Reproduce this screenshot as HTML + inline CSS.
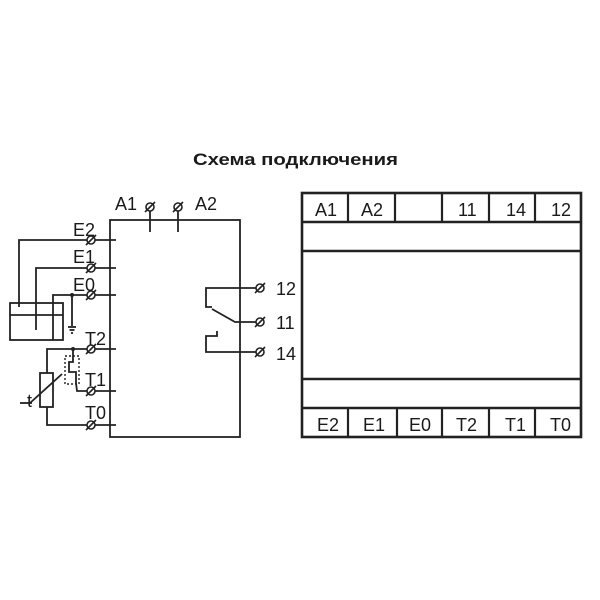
<!DOCTYPE html>
<html><head><style>
html,body{margin:0;padding:0;background:#fff;}
svg{display:block;}
text{font-family:"Liberation Sans",sans-serif;fill:#1a1a1a;}
</style></head><body>
<svg width="600" height="600" viewBox="0 0 600 600" xmlns="http://www.w3.org/2000/svg">
<rect width="600" height="600" fill="#fff"/>
<text x="193" y="165" font-size="17" font-weight="bold" textLength="205" lengthAdjust="spacingAndGlyphs">Схема подключения</text>

<g stroke="#222" stroke-width="1.8" fill="none">
<rect x="110" y="220" width="130" height="217"/>
<line x1="150" y1="207" x2="150" y2="232"/>
<line x1="178" y1="207" x2="178" y2="232"/>
<line x1="91" y1="240" x2="116" y2="240"/>
<line x1="91" y1="268" x2="116" y2="268"/>
<line x1="91" y1="295" x2="116" y2="295"/>
<line x1="91" y1="349" x2="116" y2="349"/>
<line x1="91" y1="391" x2="116" y2="391"/>
<line x1="91" y1="425" x2="116" y2="425"/>
<rect x="10" y="303" width="53" height="37"/>
<line x1="10" y1="315" x2="63" y2="315"/>
<polyline points="19,307 19,240 91,240"/>
<polyline points="36,330 36,268 91,268"/>
<polyline points="53,340 53,295 91,295"/>
<polyline points="72,295 72,326"/>
<line x1="68" y1="327" x2="76" y2="327"/>
<line x1="69.5" y1="330" x2="74.5" y2="330"/>
<line x1="71" y1="333" x2="73" y2="333"/>
<polyline points="91,349 47,349 47,373"/>
<polyline points="47,407 47,425 91,425"/>
<rect x="40" y="373" width="13" height="34"/>
<line x1="30" y1="403" x2="62" y2="374"/>
<line x1="20" y1="403" x2="32" y2="403"/>
<polyline points="73,349 73,362 69,362 69,372 76,372 76,383 77,391 91,391"/>
<rect x="65" y="356" width="14" height="28" stroke-dasharray="2,2" stroke-width="1.4"/>
<polyline points="258,288 206,288 206,307 212,307"/>
<polyline points="212,309 235,322 258,322"/>
<polyline points="258,352 206,352 206,336 217,336 217,331"/>
<rect x="302" y="193" width="279" height="244" stroke-width="2.6"/>
<line x1="302" y1="222" x2="581" y2="222" stroke-width="2.6"/>
<line x1="302" y1="251" x2="581" y2="251" stroke-width="2.6"/>
<line x1="302" y1="379" x2="581" y2="379" stroke-width="2.6"/>
<line x1="302" y1="408" x2="581" y2="408" stroke-width="2.6"/>
<g stroke-width="2.2">
<line x1="348" y1="193" x2="348" y2="222"/><line x1="395" y1="193" x2="395" y2="222"/>
<line x1="442" y1="193" x2="442" y2="222"/><line x1="489" y1="193" x2="489" y2="222"/>
<line x1="535" y1="193" x2="535" y2="222"/>
<line x1="348" y1="408" x2="348" y2="437"/><line x1="397" y1="408" x2="397" y2="437"/>
<line x1="442" y1="408" x2="442" y2="437"/><line x1="489" y1="408" x2="489" y2="437"/>
<line x1="535" y1="408" x2="535" y2="437"/>
</g>
</g>
<g stroke="#222" stroke-width="1.6" fill="#fff">
<g transform="translate(150,207)"><circle r="4"/><line x1="-5" y1="5" x2="5" y2="-5"/></g>
<g transform="translate(178,207)"><circle r="4"/><line x1="-5" y1="5" x2="5" y2="-5"/></g>
<g transform="translate(91,240)"><circle r="4"/><line x1="-5" y1="5" x2="5" y2="-5"/></g>
<g transform="translate(91,268)"><circle r="4"/><line x1="-5" y1="5" x2="5" y2="-5"/></g>
<g transform="translate(91,295)"><circle r="4"/><line x1="-5" y1="5" x2="5" y2="-5"/></g>
<g transform="translate(91,349)"><circle r="4"/><line x1="-5" y1="5" x2="5" y2="-5"/></g>
<g transform="translate(91,391)"><circle r="4"/><line x1="-5" y1="5" x2="5" y2="-5"/></g>
<g transform="translate(91,425)"><circle r="4"/><line x1="-5" y1="5" x2="5" y2="-5"/></g>
<g transform="translate(260,288)"><circle r="4"/><line x1="-5" y1="5" x2="5" y2="-5"/></g>
<g transform="translate(260,322)"><circle r="4"/><line x1="-5" y1="5" x2="5" y2="-5"/></g>
<g transform="translate(260,352)"><circle r="4"/><line x1="-5" y1="5" x2="5" y2="-5"/></g>
</g>
<circle cx="72" cy="295" r="2" fill="#222"/>
<circle cx="73" cy="349" r="2" fill="#222"/>
<g font-size="18">
<text x="115" y="210">A1</text>
<text x="195" y="210">A2</text>
<text x="73" y="236">E2</text>
<text x="73" y="263">E1</text>
<text x="73" y="291">E0</text>
<text x="85" y="345">T2</text>
<text x="85" y="386">T1</text>
<text x="85" y="419">T0</text>
<text x="27" y="407">t</text>
<text x="276" y="295">12</text>
<text x="276" y="329">11</text>
<text x="276" y="360">14</text>
</g>
<g font-size="18">
<text x="315" y="216">A1</text>
<text x="361" y="216">A2</text>
<text x="458" y="216">11</text>
<text x="506" y="216">14</text>
<text x="551" y="216">12</text>
<text x="317" y="431">E2</text>
<text x="363" y="431">E1</text>
<text x="409" y="431">E0</text>
<text x="456" y="431">T2</text>
<text x="505" y="431">T1</text>
<text x="550" y="431">T0</text>
</g>
</svg>
</body></html>
